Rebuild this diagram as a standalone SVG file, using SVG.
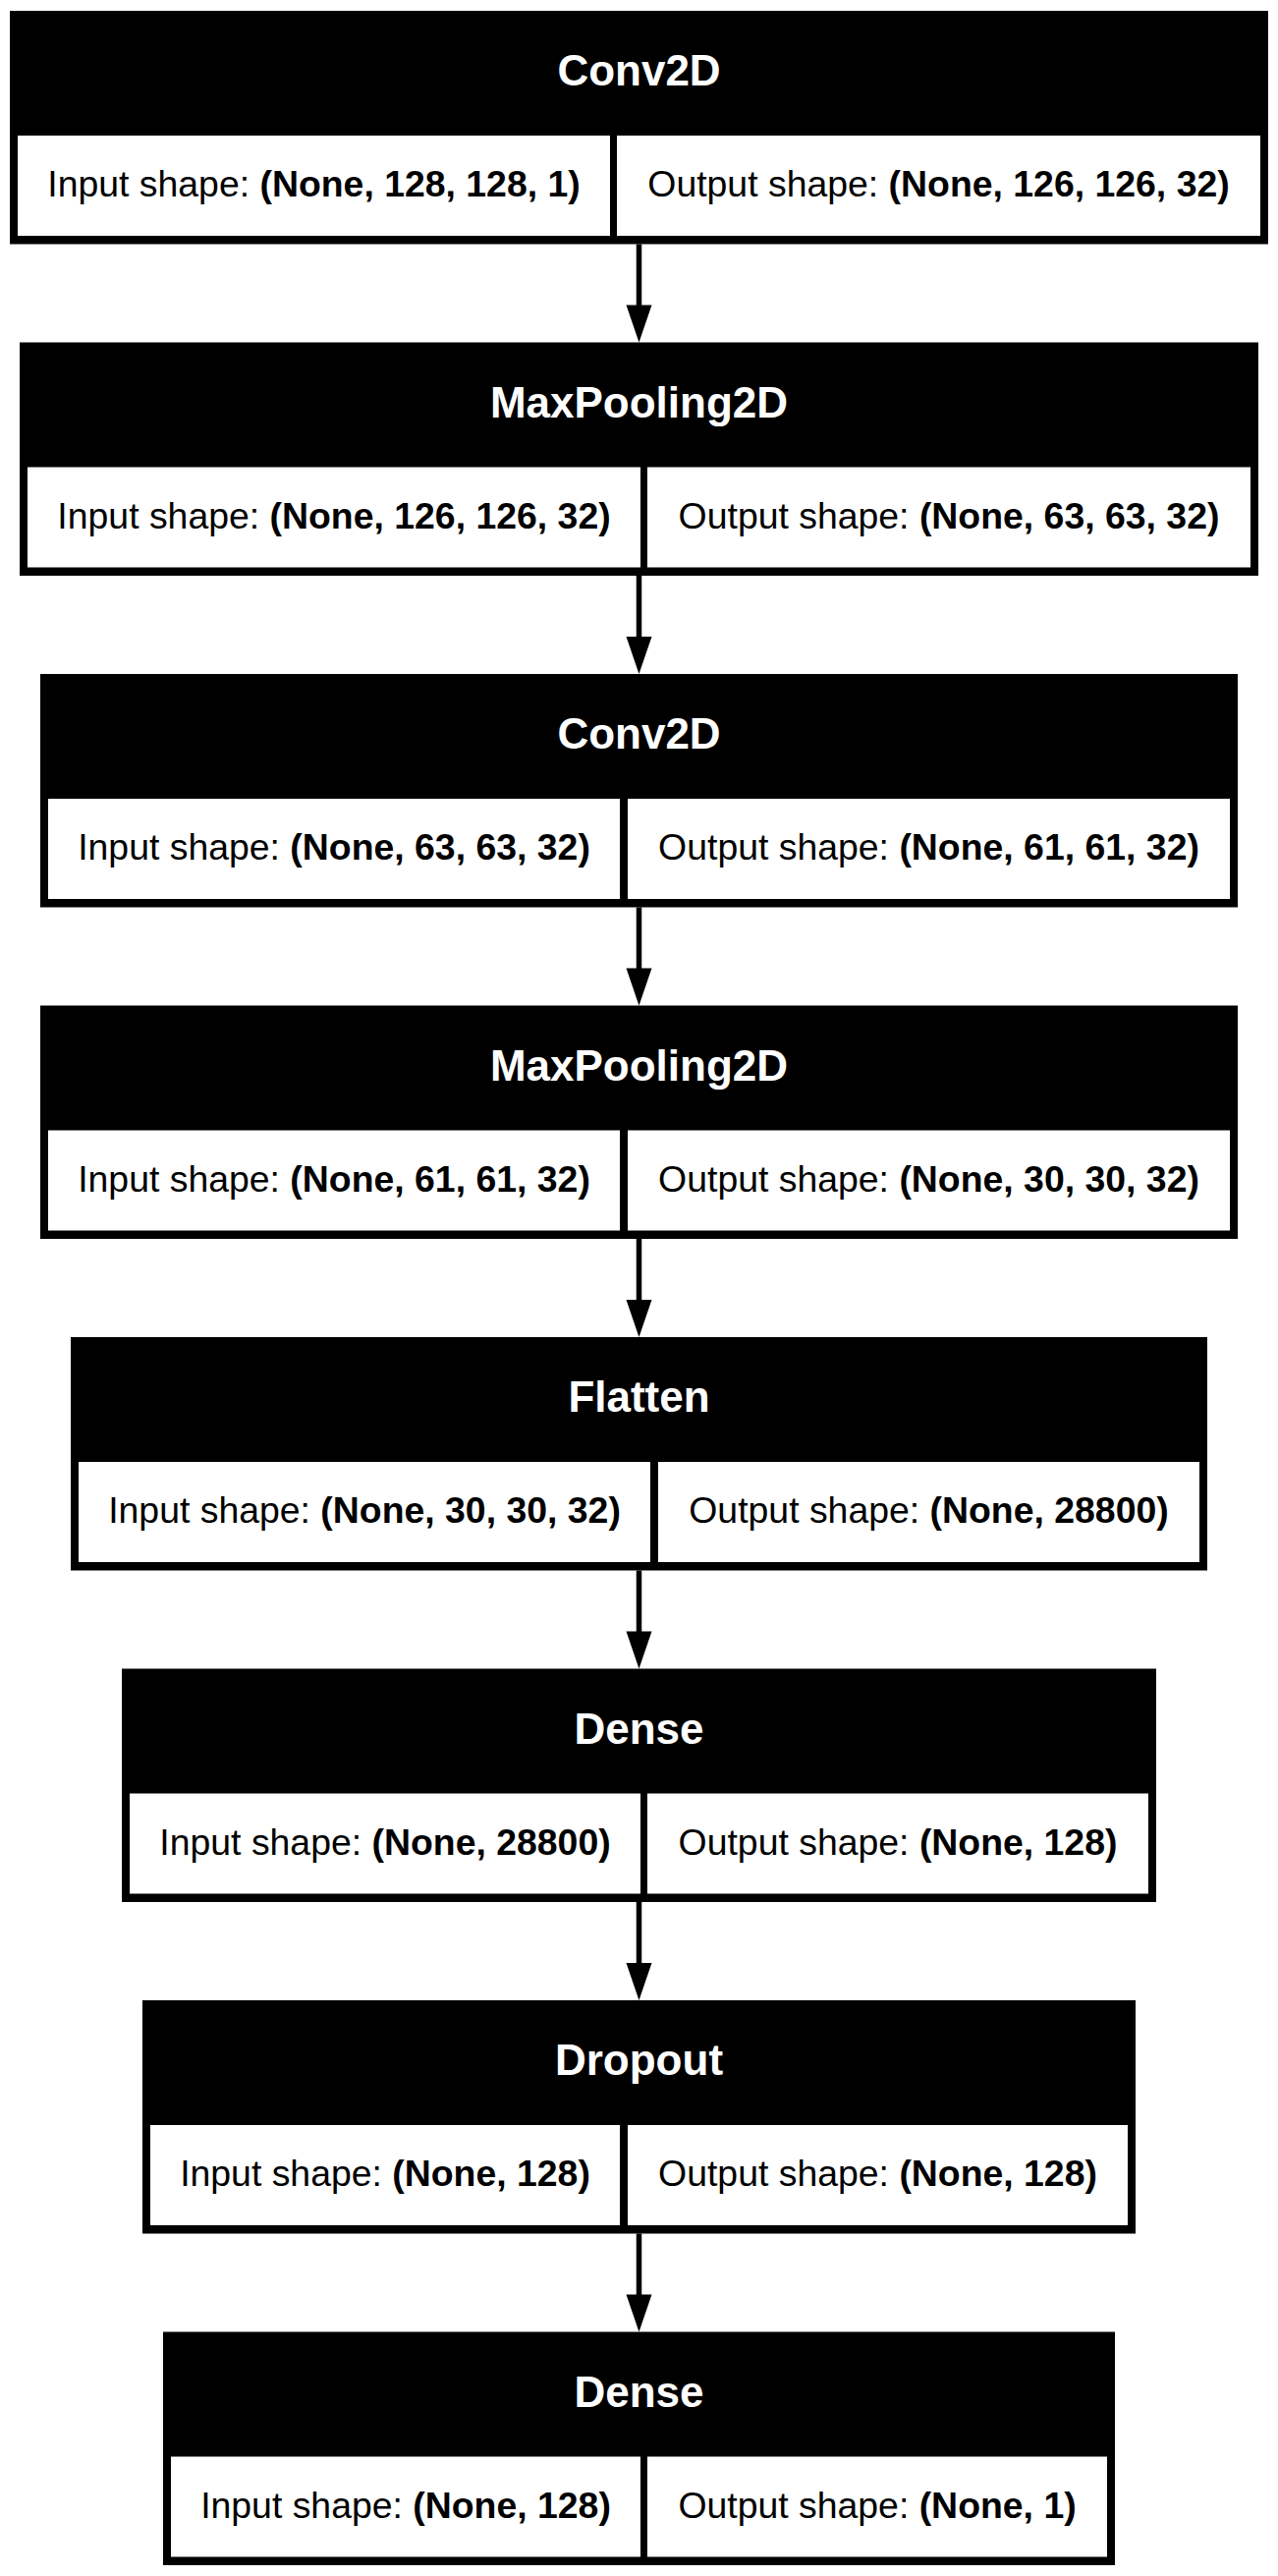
<svg xmlns="http://www.w3.org/2000/svg" width="1301" height="2622" viewBox="0 0 1301 2622">
<style>
.bg{fill:#000}
.cell{fill:#fff}
.title{font-family:"Liberation Sans",Arial,sans-serif;font-size:44px;font-weight:bold;fill:#fff;text-anchor:middle}
.lbl{font-family:"Liberation Sans",Arial,sans-serif;font-size:37.4px;fill:#000;text-anchor:middle}
.b{font-weight:bold}
.edge{stroke:#000;stroke-width:5.5;fill:none}
.head{fill:#000;stroke:none}
</style>
<rect width="1301" height="2622" fill="#fff"/>
<g id="edges">
<line class="edge" x1="650.5" y1="248.5" x2="650.5" y2="311"/><polygon class="head" points="637.5,310.5 663.5,310.5 650.5,348.5"/>
<line class="edge" x1="650.5" y1="586" x2="650.5" y2="648.5"/><polygon class="head" points="637.5,648 663.5,648 650.5,686"/>
<line class="edge" x1="650.5" y1="923.5" x2="650.5" y2="986"/><polygon class="head" points="637.5,985.5 663.5,985.5 650.5,1023.5"/>
<line class="edge" x1="650.5" y1="1261" x2="650.5" y2="1323.5"/><polygon class="head" points="637.5,1323 663.5,1323 650.5,1361"/>
<line class="edge" x1="650.5" y1="1598.5" x2="650.5" y2="1661"/><polygon class="head" points="637.5,1660.5 663.5,1660.5 650.5,1698.5"/>
<line class="edge" x1="650.5" y1="1936" x2="650.5" y2="1998.5"/><polygon class="head" points="637.5,1998 663.5,1998 650.5,2036"/>
<line class="edge" x1="650.5" y1="2273.5" x2="650.5" y2="2336"/><polygon class="head" points="637.5,2335.5 663.5,2335.5 650.5,2373.5"/>
</g>
<g id="node1">
<rect class="bg" x="10" y="11" width="1281" height="237.5"/>
<rect class="cell" x="18" y="138" width="603" height="102"/>
<rect class="cell" x="628" y="138" width="655" height="102"/>
<text class="title" x="650.5" y="87">Conv2D</text>
<text class="lbl" x="319.5" y="200">Input shape: <tspan class="b">(None, 128, 128, 1)</tspan></text>
<text class="lbl" x="955.5" y="200">Output shape: <tspan class="b">(None, 126, 126, 32)</tspan></text>
</g>
<g id="node2">
<rect class="bg" x="20" y="348.5" width="1261" height="237.5"/>
<rect class="cell" x="28" y="475.5" width="624" height="102"/>
<rect class="cell" x="659" y="475.5" width="614" height="102"/>
<text class="title" x="650.5" y="424.5">MaxPooling2D</text>
<text class="lbl" x="340" y="537.5">Input shape: <tspan class="b">(None, 126, 126, 32)</tspan></text>
<text class="lbl" x="966" y="537.5">Output shape: <tspan class="b">(None, 63, 63, 32)</tspan></text>
</g>
<g id="node3">
<rect class="bg" x="41" y="686" width="1219" height="237.5"/>
<rect class="cell" x="49" y="813" width="582" height="102"/>
<rect class="cell" x="639" y="813" width="613" height="102"/>
<text class="title" x="650.5" y="762">Conv2D</text>
<text class="lbl" x="340" y="875">Input shape: <tspan class="b">(None, 63, 63, 32)</tspan></text>
<text class="lbl" x="945.5" y="875">Output shape: <tspan class="b">(None, 61, 61, 32)</tspan></text>
</g>
<g id="node4">
<rect class="bg" x="41" y="1023.5" width="1219" height="237.5"/>
<rect class="cell" x="49" y="1150.5" width="582" height="102"/>
<rect class="cell" x="639" y="1150.5" width="613" height="102"/>
<text class="title" x="650.5" y="1099.5">MaxPooling2D</text>
<text class="lbl" x="340" y="1212.5">Input shape: <tspan class="b">(None, 61, 61, 32)</tspan></text>
<text class="lbl" x="945.5" y="1212.5">Output shape: <tspan class="b">(None, 30, 30, 32)</tspan></text>
</g>
<g id="node5">
<rect class="bg" x="72" y="1361" width="1157" height="237.5"/>
<rect class="cell" x="80" y="1488" width="582" height="102"/>
<rect class="cell" x="670" y="1488" width="551" height="102"/>
<text class="title" x="650.5" y="1437">Flatten</text>
<text class="lbl" x="371" y="1550">Input shape: <tspan class="b">(None, 30, 30, 32)</tspan></text>
<text class="lbl" x="945.5" y="1550">Output shape: <tspan class="b">(None, 28800)</tspan></text>
</g>
<g id="node6">
<rect class="bg" x="124" y="1698.5" width="1053" height="237.5"/>
<rect class="cell" x="132" y="1825.5" width="520" height="102"/>
<rect class="cell" x="659" y="1825.5" width="510" height="102"/>
<text class="title" x="650.5" y="1774.5">Dense</text>
<text class="lbl" x="392" y="1887.5">Input shape: <tspan class="b">(None, 28800)</tspan></text>
<text class="lbl" x="914" y="1887.5">Output shape: <tspan class="b">(None, 128)</tspan></text>
</g>
<g id="node7">
<rect class="bg" x="145" y="2036" width="1011" height="237.5"/>
<rect class="cell" x="153" y="2163" width="478" height="102"/>
<rect class="cell" x="639" y="2163" width="509" height="102"/>
<text class="title" x="650.5" y="2112">Dropout</text>
<text class="lbl" x="392" y="2225">Input shape: <tspan class="b">(None, 128)</tspan></text>
<text class="lbl" x="893.5" y="2225">Output shape: <tspan class="b">(None, 128)</tspan></text>
</g>
<g id="node8">
<rect class="bg" x="166" y="2373.5" width="969" height="237.5"/>
<rect class="cell" x="174" y="2500.5" width="478" height="102"/>
<rect class="cell" x="659" y="2500.5" width="468" height="102"/>
<text class="title" x="650.5" y="2449.5">Dense</text>
<text class="lbl" x="413" y="2562.5">Input shape: <tspan class="b">(None, 128)</tspan></text>
<text class="lbl" x="893" y="2562.5">Output shape: <tspan class="b">(None, 1)</tspan></text>
</g>
</svg>
